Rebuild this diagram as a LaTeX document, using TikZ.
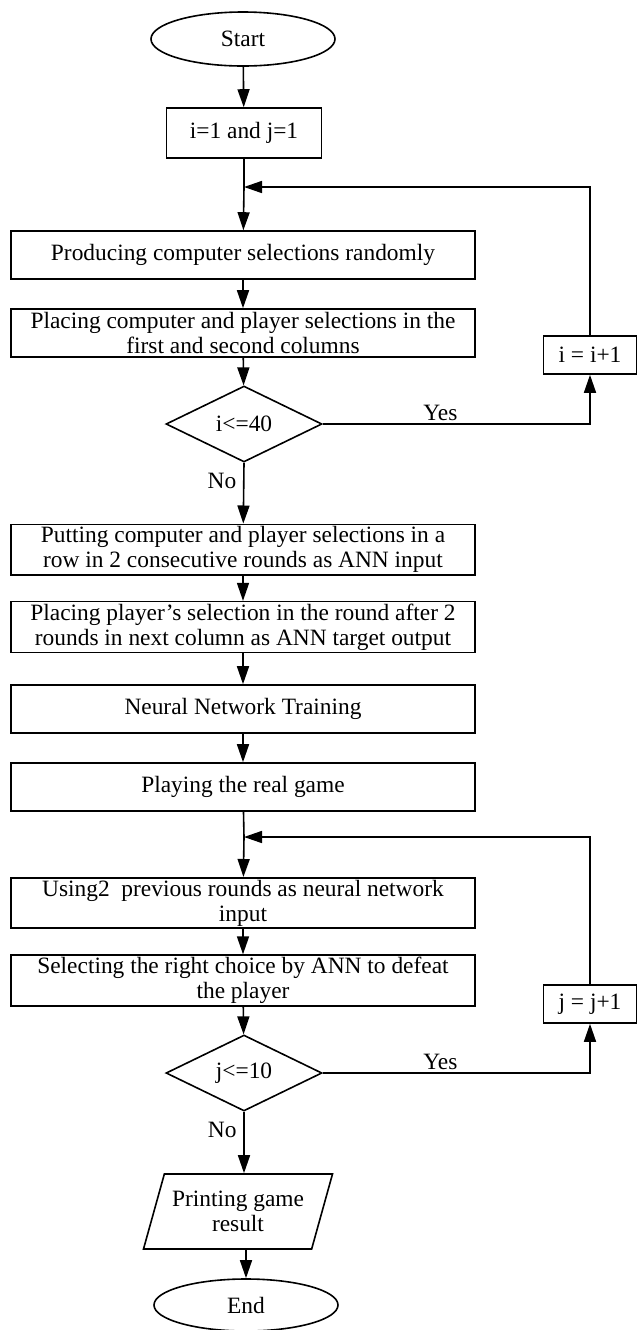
\documentclass[tikz,border=0pt]{standalone}
\usepackage{fontspec}
\setmainfont{Liberation Serif}
\usetikzlibrary{shapes.geometric,arrows.meta}

\begin{document}
\begin{tikzpicture}[x=0.5pt,y=-0.5pt, line width=0.8pt,
	every node/.style={font=\fontsize{11.7}{12.6}\selectfont},
	term/.style={draw, ellipse, minimum width=92pt, minimum height=27pt, inner sep=0pt},
	box/.style={draw, rectangle, minimum width=232pt, minimum height=24pt, align=center, inner sep=1pt},
	smallbox/.style={draw, rectangle, minimum width=46.5pt, minimum height=19pt, inner sep=1pt},
	cond/.style={draw, diamond, aspect=2, minimum width=78pt, minimum height=38pt, inner sep=0pt},
	io/.style={draw, trapezium, trapezium left angle=63, trapezium right angle=117, trapezium stretches body=true, minimum width=94.5pt, minimum height=37.5pt, align=center, inner sep=0pt},
	arr/.style={-{Triangle[length=9pt,width=6pt]}},
	lbl/.style={inner sep=1pt}]

	\useasboundingbox (0,0) rectangle (637,1330);

	\node[term] (start) at (243,39) {Start};
	\node[draw, rectangle, minimum width=77.5pt, minimum height=25pt] (init) at (244,133) {i=1 and j=1};
	\node[box] (produce) at (243,255) {Producing computer selections randomly};
	\node[box] (place) at (243,333) {Placing computer and player selections in the\\first and second columns};
	\node[cond] (cond1) at (244,424) {i<=40};
	\node[smallbox] (inci) at (590,355) {i = i+1};

	\node[box] (put) at (243,549.5) {Putting computer and player selections in a\\row in 2 consecutive rounds as ANN input};
	\node[box] (target) at (243,627) {Placing player’s selection in the round after 2\\rounds in next column as ANN target output};
	\node[box] (train) at (243,709) {Neural Network Training};
	\node[box] (play) at (243,787) {Playing the real game};

	\node[box] (use) at (243,903) {Using2\ \ previous rounds as neural network\\input};
	\node[box] (choose) at (243,980.5) {Selecting the right choice by ANN to defeat\\the player};
	\node[cond] (cond2) at (244,1073) {j<=10};
	\node[smallbox] (incj) at (590,1004) {j = j+1};

	\node[io] (print) at (238,1211.5) {Printing game\\result};
	\node[term, minimum height=26pt] (stop) at (246,1305) {End};

	\coordinate (loopi) at (244,187);
	\coordinate (loopj) at (244,837);

	% first loop
	\draw[arr] (start) -- (init);
	\draw (init) -- (loopi);
	\draw[arr] (loopi) -- (produce);
	\draw[arr] (produce) -- (place);
	\draw[arr] (place) -- (cond1);
	\draw[arr] (cond1.east) -| node[lbl, above, pos=0.22] {Yes} (inci.south);
	\draw[arr] (inci.north) |- (loopi);
	\draw[arr] (cond1.south) -- node[left, pos=0.3] {No} (put);

	\draw[arr] (put) -- (target);
	\draw[arr] (target) -- (train);
	\draw[arr] (train) -- (play);

	% second loop
	\draw (play) -- (loopj);
	\draw[arr] (loopj) -- (use);
	\draw[arr] (use) -- (choose);
	\draw[arr] (choose) -- (cond2);
	\draw[arr] (cond2.east) -| node[lbl, above, pos=0.22] {Yes} (incj.south);
	\draw[arr] (incj.north) |- (loopj);
	\draw[arr] (cond2.south) -- node[left, pos=0.3] {No} (cond2.south |- print.north);
	\draw[arr] (stop.north |- print.south) -- (stop.north);
\end{tikzpicture}
\end{document}
